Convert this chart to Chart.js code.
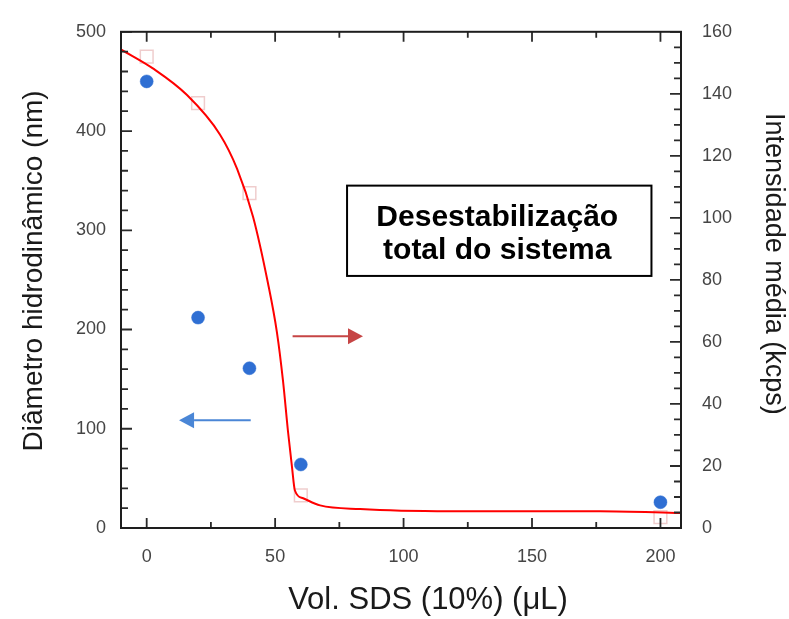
<!DOCTYPE html>
<html>
<head>
<meta charset="utf-8">
<title>SDS</title>
<script src="https://cdn.jsdelivr.net/npm/chart.js@4.4.1/dist/chart.umd.min.js"></script>
<style>
  html, body { margin: 0; padding: 0; background: #fff; }
</style>
</head>
<body>
<canvas id="chart" width="789" height="619"></canvas>
<script>
// Vol. SDS (uL) for the measured points
const volSDS = [0, 20, 40, 60, 200];
// hydrodynamic diameter (nm), left axis
const diametro = [450, 212, 161, 64, 26];
// mean intensity (kcps), right axis (faint squares)
const intensidade = [152, 137, 108, 10.5, 3.5];

// red fit curve (right axis)
const fitX = [-10, 2.4, 15.7, 28.5, 35.2, 41.4, 47.2, 50.7, 53.1, 55.0, 56.6, 57.7, 60.9, 67.5, 83.1, 118.1, 176.5, 208];
const fitY = [154.3, 148.2, 139.6, 126.9, 115.8, 100.4, 79.0, 63.1, 47.2, 31.2, 19.4, 12.1, 9.6, 7.3, 6.1, 5.4, 5.4, 4.8];

const xTicks = [0, 50, 100, 150, 200];
const leftTicks = [0, 100, 200, 300, 400, 500];
const rightTicks = [0, 20, 40, 60, 80, 100, 120, 140, 160];

const boxLines = ['Desestabilização', 'total do sistema'];
const xTitle = 'Vol. SDS (10%) (\u03bcL)';
const leftTitle = 'Diâmetro hidrodinâmico (nm)';
const rightTitle = 'Intensidade média (kcps)';

const toPts = (xs, ys) => xs.map((x, i) => ({ x: x, y: ys[i] }));

// frame with inward major/minor ticks on all sides
const frameTicks = {
  id: 'frameTicks',
  afterDatasetsDraw(chart) {
    const { ctx, chartArea: a, scales } = chart;
    const { x, y, y2 } = scales;
    ctx.save();
    ctx.strokeStyle = '#2a2a2a';
    ctx.lineWidth = 1.8;
    ctx.beginPath();
    for (let v = 0; v <= 200; v += 25) {
      const px = x.getPixelForValue(v);
      const len = v % 50 === 0 ? 10 : 6;
      ctx.moveTo(px, a.bottom); ctx.lineTo(px, a.bottom - len);
      ctx.moveTo(px, a.top); ctx.lineTo(px, a.top + len);
    }
    for (let v = 0; v <= 500; v += 20) {
      const py = y.getPixelForValue(v);
      const len = v % 100 === 0 ? 11 : 7;
      ctx.moveTo(a.left, py); ctx.lineTo(a.left + len, py);
    }
    for (let v = 0; v <= 160; v += 5) {
      const py = y2.getPixelForValue(v);
      const len = v % 20 === 0 ? 11 : 7;
      ctx.moveTo(a.right, py); ctx.lineTo(a.right - len, py);
    }
    ctx.stroke();
    ctx.lineWidth = 2;
    ctx.strokeStyle = '#1e1e1e';
    ctx.strokeRect(a.left, a.top, a.right - a.left, a.bottom - a.top);
    ctx.restore();
  }
};

function arrow(ctx, x0, x1, py, color) {
  const dir = x1 > x0 ? 1 : -1;
  const headLen = 15, half = 8;
  ctx.strokeStyle = color;
  ctx.fillStyle = color;
  ctx.lineWidth = 2;
  ctx.beginPath();
  ctx.moveTo(x0, py);
  ctx.lineTo(x1 - dir * headLen, py);
  ctx.stroke();
  ctx.beginPath();
  ctx.moveTo(x1, py);
  ctx.lineTo(x1 - dir * headLen, py - half);
  ctx.lineTo(x1 - dir * headLen, py + half);
  ctx.closePath();
  ctx.fill();
}

// text box, arrows and axis titles
const annotations = {
  id: 'annotations',
  afterDraw(chart) {
    const { ctx, chartArea: a, scales } = chart;
    const { x, y } = scales;
    ctx.save();

    const bx0 = x.getPixelForValue(78), bx1 = x.getPixelForValue(196.5);
    const by0 = y.getPixelForValue(345), by1 = y.getPixelForValue(254);
    ctx.fillStyle = '#fff';
    ctx.fillRect(bx0, by0, bx1 - bx0, by1 - by0);
    ctx.strokeStyle = '#000';
    ctx.lineWidth = 2;
    ctx.strokeRect(bx0, by0, bx1 - bx0, by1 - by0);
    ctx.fillStyle = '#000';
    ctx.font = 'bold 30px "Liberation Sans", Arial, sans-serif';
    ctx.textAlign = 'center';
    ctx.textBaseline = 'alphabetic';
    const cx = (bx0 + bx1) / 2 - 2;
    ctx.fillText(boxLines[0], cx, y.getPixelForValue(304));
    ctx.fillText(boxLines[1], cx, y.getPixelForValue(271));

    arrow(ctx, x.getPixelForValue(56.8), x.getPixelForValue(84.2), y.getPixelForValue(193.2), '#c64545');
    arrow(ctx, x.getPixelForValue(40.5), x.getPixelForValue(12.6), y.getPixelForValue(108.6), '#4a86d6');

    // axis titles
    ctx.fillStyle = '#1a1a1a';
    ctx.font = '31px "Liberation Sans", Arial, sans-serif';
    ctx.textBaseline = 'alphabetic';
    ctx.fillText(xTitle, (a.left + a.right) / 2 + 27, 609);

    ctx.textBaseline = 'middle';
    ctx.font = '28px "Liberation Sans", Arial, sans-serif';
    ctx.save();
    ctx.translate(34, (a.top + a.bottom) / 2 - 9);
    ctx.rotate(-Math.PI / 2);
    ctx.fillText(leftTitle, 0, 0);
    ctx.restore();

    ctx.font = '27px "Liberation Sans", Arial, sans-serif';
    ctx.save();
    ctx.translate(773, (a.top + a.bottom) / 2 - 16);
    ctx.rotate(Math.PI / 2);
    ctx.fillText(rightTitle, 0, 0);
    ctx.restore();

    ctx.restore();
  }
};

const tickFont = { family: '"Liberation Sans", Arial, sans-serif', size: 18 };

new Chart(document.getElementById('chart'), {
  type: 'scatter',
  data: {
    datasets: [
      {
        label: 'Intensidade',
        data: toPts(volSDS, intensidade),
        yAxisID: 'y2',
        pointStyle: 'rect',
        pointRadius: 9,
        backgroundColor: 'rgba(255,255,255,0)',
        borderColor: 'rgba(215,130,130,0.4)',
        borderWidth: 1.5,
        order: 3
      },
      {
        label: 'Ajuste',
        data: toPts(fitX, fitY),
        yAxisID: 'y2',
        showLine: true,
        pointRadius: 0,
        borderColor: '#ff0000',
        borderWidth: 2,
        cubicInterpolationMode: 'monotone',
        order: 2
      },
      {
        label: 'Diâmetro',
        data: toPts(volSDS, diametro),
        yAxisID: 'y',
        pointRadius: 6.5,
        backgroundColor: '#2f6fd3',
        borderColor: 'rgba(47,111,211,0.5)',
        borderWidth: 1,
        order: 1
      }
    ]
  },
  options: {
    responsive: false,
    animation: false,
    layout: { padding: { top: 26, left: 0, right: 0, bottom: 0 } },
    plugins: { legend: { display: false }, tooltip: { enabled: false } },
    scales: {
      x: {
        type: 'linear',
        min: -10, max: 208,
        grid: { display: false, drawTicks: false },
        border: { display: false },
        afterBuildTicks: (s) => { s.ticks = xTicks.map(v => ({ value: v })); },
        afterFit: (s) => { s.height = 91; },
        ticks: { font: tickFont, color: '#454545', padding: 18, maxRotation: 0 }
      },
      y: {
        position: 'left',
        min: 0, max: 500,
        grid: { display: false, drawTicks: false },
        border: { display: false },
        afterBuildTicks: (s) => { s.ticks = leftTicks.map(v => ({ value: v })); },
        afterFit: (s) => { s.width = 121; },
        ticks: { font: tickFont, color: '#454545', padding: 15 }
      },
      y2: {
        position: 'right',
        min: 0, max: 160,
        grid: { display: false, drawTicks: false },
        border: { display: false },
        afterBuildTicks: (s) => { s.ticks = rightTicks.map(v => ({ value: v })); },
        afterFit: (s) => { s.width = 108; },
        ticks: { font: tickFont, color: '#454545', padding: 21 }
      }
    }
  },
  plugins: [frameTicks, annotations]
});
</script>
</body>
</html>
